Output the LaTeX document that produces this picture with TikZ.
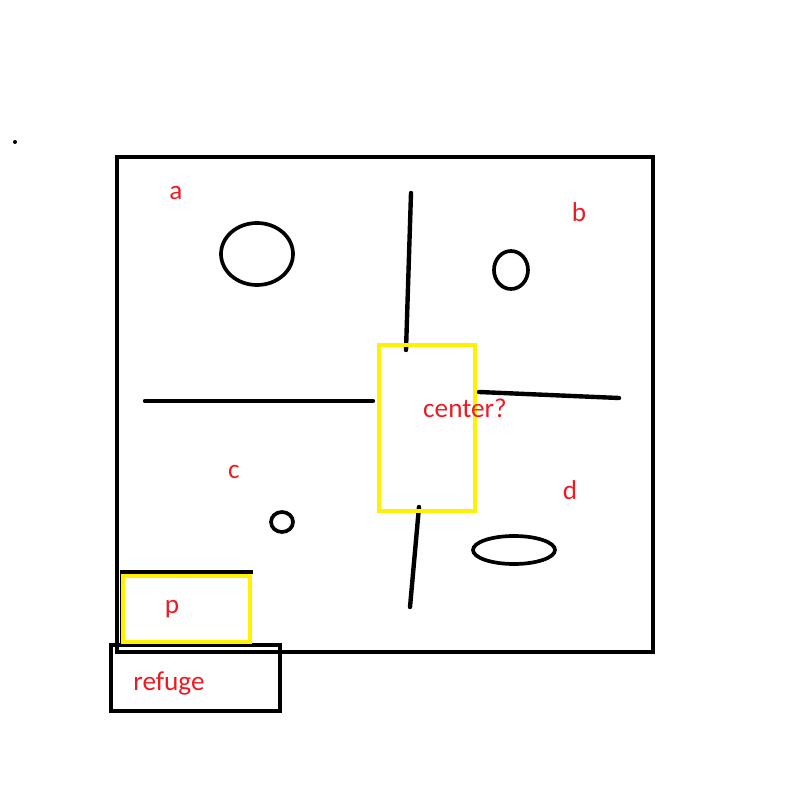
\documentclass[tikz,border=0pt]{standalone}
\usepackage{fontspec}
\setmainfont{Carlito}
\usepackage{tikz}
\definecolor{mkred}{RGB}{237,28,36}
\definecolor{mkyellow}{RGB}{255,242,0}

\begin{document}
\begin{tikzpicture}[x=0.02cm,y=-0.02cm,
  wall/.style={line width=2.5pt},
  blob/.style={line width=2.1pt},
  zone/.style={mkyellow,line width=2.5pt},
  lbl/.style={text=mkred,font=\fontsize{15.5}{18}\selectfont,inner sep=0pt}]
  \useasboundingbox (0,0) rectangle (808,787);
  \fill (15,142) circle(2);
  % arena
  \draw[wall] (117,157) rectangle (653,652);
  \draw[blob] (257,254) ellipse (36 and 31);
  \draw[blob] (511,270) ellipse (17 and 19);
  \draw[blob] (282,522) ellipse (11 and 10);
  \draw[blob] (514,550) ellipse (41 and 14);
  \draw[wall,line cap=round] (411,193)--(406,350);
  \draw[wall,line cap=round] (145,401)--(373,401);
  \draw[wall,line cap=round] (479,392)--(619,398);
  \draw[wall,line cap=round] (419,507)--(410,607);
  % zones
  \draw[wall] (111,645) rectangle (280,711);
  \draw[line width=2pt] (122,645)--(122,572)--(253,572);
  \draw[zone] (123,576) rectangle (250,642);
  \draw[zone] (379,345) rectangle (475,511);
  % labels
  \node[lbl] (la) at (176,193) {a};
  \node[lbl] (lb) at (579,212) {b};
  \node[lbl] (lc) at (234,472) {c};
  \node[lbl] (ld) at (570,490) {d};
  \node[lbl] (lcenter) at (465,408) {center?};
  \node[lbl] (lp) at (172,609) {p};
  \node[lbl] (lrefuge) at (169,684) {refuge};
\end{tikzpicture}
\end{document}
